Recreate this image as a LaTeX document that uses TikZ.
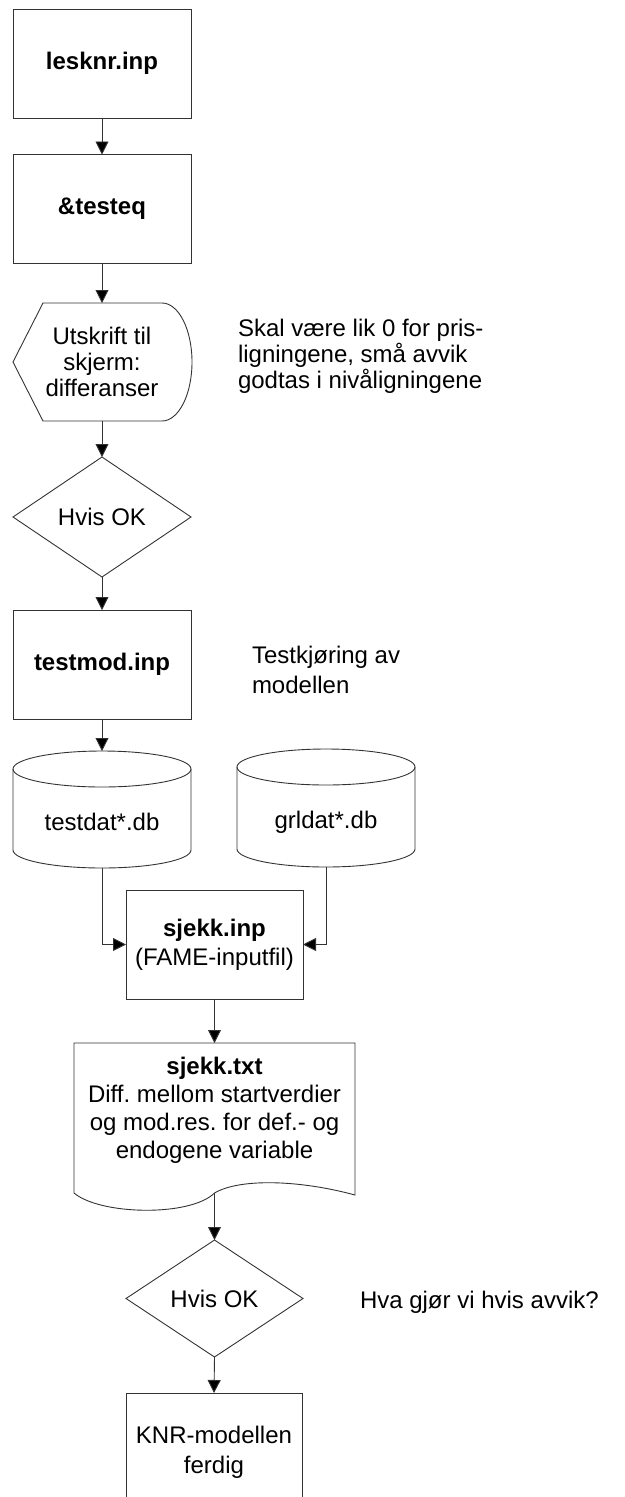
\documentclass[tikz,border=0pt]{standalone}
\usepackage{fontspec}
\setmainfont{Liberation Sans}
\usetikzlibrary{arrows.meta,shapes.geometric}
\frenchspacing
\begin{document}
\begin{tikzpicture}[x=1pt,y=-1pt,
  every node/.style={font=\fontsize{24}{26}\selectfont, inner sep=0pt, outer sep=0pt},
  line/.style={draw=black!80, line width=0.9pt},
  arr/.style={line, -{Triangle[length=13pt,width=13pt,fill=black]}},
  boxnode/.style={line, rectangle, minimum width=178pt, minimum height=109pt, align=center},
  dec/.style={line, diamond, minimum width=178pt, minimum height=120pt, align=center},
  frame/.style={rectangle, align=center},
  note/.style={align=left, anchor=west}]
\useasboundingbox (0,0) rectangle (624,1497);

% main column
\node[boxnode] (b1) at (102,63.5) {\textbf{lesknr.inp}};
\node[boxnode] (b2) at (102,209) {\textbf{\&testeq}};

\node[frame, minimum width=179pt, minimum height=118pt] (disp) at (102,362) {Utskrift til\\skjerm:\\differanser};
\draw[line] (43,303) -- (162,303) .. controls (178.6,303) and (192,329.4) .. (192,362)
  .. controls (192,394.6) and (178.6,421) .. (162,421) -- (43,421) -- (13,362) -- cycle;

\node[dec] (d1) at (102,517) {Hvis OK};
\node[boxnode] (tm) at (102,664.5) {\textbf{testmod.inp}};

% cylinders
\node[frame, minimum width=178pt, minimum height=117pt] (c1) at (102,809.5) {};
\node (c1t) at (102,822) {testdat*.db};
\draw[line] (102,769) ellipse [x radius=89pt, y radius=18pt];
\draw[line] (13,769) -- (13,850) .. controls (13,859.9) and (52.8,868) .. (102,868)
  .. controls (151.2,868) and (191,859.9) .. (191,850) -- (191,769);

\node[frame, minimum width=178pt, minimum height=118pt] (c2) at (326,808) {};
\node (c2t) at (326,822) {grldat*.db};
\draw[line] (326,767) ellipse [x radius=89pt, y radius=18pt];
\draw[line] (237,767) -- (237,849) .. controls (237,858.9) and (276.8,867) .. (326,867)
  .. controls (375.2,867) and (415,858.9) .. (415,849) -- (415,767);

\node[boxnode, minimum width=177pt, font=\fontsize{24}{29}\selectfont] (sj) at (214.5,944.5) {\textbf{sjekk.inp}\\(FAME-inputfil)};

% document shape
\node[frame, minimum width=281pt, minimum height=150pt] (doc) at (214.5,1118) {};
\node[align=center, font=\fontsize{24}{28}\selectfont] (doct) at (214.5,1110) {\textbf{sjekk.txt}\\Diff. mellom startverdier\\og mod.res. for def.- og\\endogene variable};
\draw[line] (74,1193) -- (74,1043) -- (355,1043) -- (355,1195)
  .. controls (300,1180) and (240,1178) .. (214.5,1193)
  .. controls (190,1217) and (100,1215) .. (74,1193);

\node[dec, minimum width=177pt, minimum height=117pt] (d2) at (214.5,1298.5) {Hvis OK};
\node[boxnode, minimum width=176pt, minimum height=118pt, font=\fontsize{24}{30}\selectfont] (knr) at (214,1452) {KNR-modellen\\ferdig};

% notes
\node[note] (n1) at (238,356) {Skal være lik 0 for pris-\\ligningene, små avvik\\godtas i nivåligningene};
\node[note, font=\fontsize{24}{30}\selectfont] (n2) at (252,669.5) {Testkjøring av\\modellen};
\node[anchor=base west] (n3) at (360,1308.5) {Hva gjør vi hvis avvik?};

% connectors
\draw[arr] (b1.south) -- (b2.north);
\draw[arr] (b2.south) -- (disp.north);
\draw[arr] (disp.south) -- (d1.north);
\draw[arr] (d1.south) -- (tm.north);
\draw[arr] (tm.south) -- (c1.north);
\draw[arr] (c1.south) |- (sj.west);
\draw[arr] (c2.south) |- (sj.east);
\draw[arr] (sj.south) -- (doc.north);
\draw[arr] (doc.south) -- (d2.north);
\draw[arr] (d2.south) -- (knr.north);
\end{tikzpicture}
\end{document}
